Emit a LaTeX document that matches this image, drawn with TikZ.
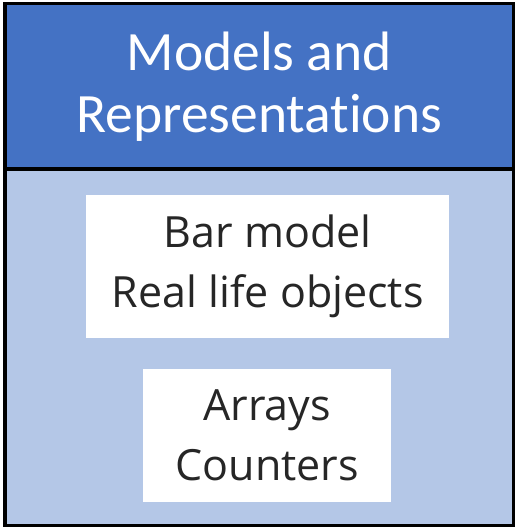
\documentclass[tikz,border=0pt]{standalone}
\usepackage{fontspec}
\setmainfont{Carlito}[Ligatures=NoCommon]
\newfontfamily\itemfont{Open Sans}
\usetikzlibrary{positioning}
\definecolor{headblue}{HTML}{4472C4}
\definecolor{bodyblue}{HTML}{B4C7E7}

\begin{document}
\begin{tikzpicture}[x=1pt,y=-1pt,
frame/.style={draw=black,line width=3.5pt,inner sep=0pt,outer sep=0pt},
itembox/.style={fill=white,inner sep=0pt,align=center,text=black!85,
font=\itemfont\fontsize{43}{60}\selectfont}]
\useasboundingbox (0,0) rectangle (515,527);
\node [frame,fill=bodyblue,minimum width=508.5pt,minimum height=522pt,anchor=north west] (body) at (5,3.5) {};
\node [frame,fill=headblue,minimum width=508.5pt,minimum height=165.5pt,anchor=north west,
text=white,align=center,font=\fontsize{55.5}{62}\selectfont] (header) at (5,3.5) {Models and\\Representations};
\node [itembox,minimum width=363pt,minimum height=143pt,anchor=north west] (bars) at (86,195) {Bar model\\Real life objects};
\node [itembox,minimum width=248pt,minimum height=133pt,anchor=north west] (arrays) at (143,369) {Arrays\\Counters};
\end{tikzpicture}
\end{document}
